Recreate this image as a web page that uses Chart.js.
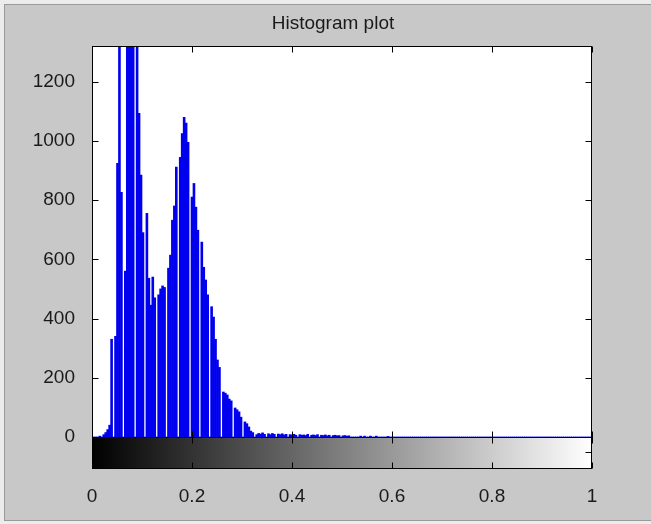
<!DOCTYPE html>
<html>
<head>
<meta charset="utf-8">
<script src="https://cdn.jsdelivr.net/npm/chart.js@4.4.1/dist/chart.umd.min.js"></script>
<style>
  html, body { margin: 0; padding: 0; background: #ececec; }
  #frame { position: absolute; left: 4px; top: 4px; width: 646px; height: 515px; background: #c8c8c8;
           border-left: 1px solid #9a9a9a; border-top: 1px solid #9a9a9a; border-bottom: 1px solid #9a9a9a; }
  #wrap { position: absolute; left: 0; top: 0; width: 651px; height: 524px; }
</style>
</head>
<body>
<div id="frame"></div>
<div id="wrap"><canvas id="hist" width="651" height="524"></canvas></div>
<script>
// imhist-style histogram, 256 bins over [0, 1]
const binCount = 256;

// counts per bin (values above the top are clipped)
const counts = [
  0, 0, 0, 0, 3, 0, 8, 15, 25, 40, 330, 0, 340, 924, 1450, 826,
  0, 560, 1450, 1400, 1450, 1450, 0, 1450, 1093, 884, 690, 0, 755, 536, 445, 540,
  470, 0, 480, 500, 510, 505, 0, 570, 614, 732, 780, 911, 0, 944, 1024, 1079,
  1060, 995, 0, 810, 856, 776, 698, 0, 658, 573, 530, 480, 0, 440, 405, 330,
  260, 235, 0, 152, 148, 142, 128, 122, 0, 98, 92, 85, 67, 0, 51, 45,
  34, 20, 15, 0, 8, 12, 10, 14, 9, 0, 11, 8, 12, 9, 0, 10,
  8, 11, 7, 9, 0, 8, 7, 9, 6, 0, 8, 6, 7, 5, 9, 0,
  6, 7, 5, 8, 0, 6, 5, 7, 4, 6, 0, 5, 6, 4, 5, 0,
  4, 5, 3, 4, 0, 0, 0, 0, 0, 3, 0, 3, 0, 0, 3, 0,
  0, 3, 0, 0, 0, 0, 0, 2, 0, 0, 0, 0, 0, 0, 0, 0,
  0, 0, 0, 0, 0, 0, 0, 0, 0, 0, 0, 0, 0, 0, 0, 0,
  0, 0, 0, 0, 0, 0, 0, 0, 0, 0, 0, 0, 0, 0, 0, 0,
  0, 0, 0, 0, 0, 0, 0, 0, 0, 0, 0, 0, 0, 0, 0, 0,
  0, 0, 0, 0, 0, 0, 0, 0, 0, 0, 0, 0, 0, 0, 0, 0,
  0, 0, 0, 0, 0, 0, 0, 0, 0, 0, 0, 0, 0, 0, 0, 0,
  0, 0, 0, 0, 0, 0, 0, 0, 0, 0, 0, 0, 0, 0, 0, 0
];

const xTicks = [0, 0.2, 0.4, 0.6, 0.8, 1];
const yTicks = [0, 200, 400, 600, 800, 1000, 1200];
const yMax = 1320;
const yMin = -108;      // room for the grey colorbar under zero
const barTickY = -50;   // lone tick on the colorbar's right side
const titleText = 'Histogram plot';

const font = { family: '"Liberation Sans", Arial, sans-serif', size: 19, weight: 'normal' };

// white plot background
const plotBg = {
  id: 'plotBg',
  beforeDatasetsDraw(chart) {
    const { ctx, chartArea: a } = chart;
    ctx.save();
    ctx.fillStyle = '#ffffff';
    ctx.fillRect(a.left, a.top, a.right - a.left, a.bottom - a.top);
    ctx.restore();
  }
};

// colorbar, box, inward ticks and the title
const axesBox = {
  id: 'axesBox',
  afterDatasetsDraw(chart) {
    const { ctx, chartArea: a, scales: { x, y } } = chart;
    const y0 = Math.round(y.getPixelForValue(0)) + 0.5;
    const x0 = x.getPixelForValue(0), x1 = x.getPixelForValue(1);
    const L = Math.round(a.left) + 0.5, R = Math.round(a.right) - 0.5;
    const T = Math.round(a.top) + 0.5, B = Math.round(a.bottom) - 0.5;
    const len = 6;
    ctx.save();
    const g = ctx.createLinearGradient(x0, 0, x1, 0);
    g.addColorStop(0, '#000000');
    g.addColorStop(1, '#ffffff');
    ctx.fillStyle = g;
    ctx.fillRect(x0, y0, x1 - x0, a.bottom - y0);

    ctx.strokeStyle = '#000000';
    ctx.lineWidth = 1;
    ctx.strokeRect(L, T, R - L, B - T);
    ctx.beginPath();
    ctx.moveTo(L, y0); ctx.lineTo(R, y0);

    xTicks.forEach(v => {
      const px = Math.round(x.getPixelForValue(v)) + 0.5;
      ctx.moveTo(px, T); ctx.lineTo(px, T + len);
      ctx.moveTo(px, y0 - len); ctx.lineTo(px, y0 + len);
      ctx.moveTo(px, B); ctx.lineTo(px, B - len);
    });
    yTicks.forEach(v => {
      const py = Math.round(y.getPixelForValue(v)) + 0.5;
      ctx.moveTo(L, py); ctx.lineTo(L + len, py);
      ctx.moveTo(R, py); ctx.lineTo(R - len, py);
    });
    const pb = Math.round(y.getPixelForValue(barTickY)) + 0.5;
    ctx.moveTo(R, pb); ctx.lineTo(R - len, pb);
    ctx.stroke();

    // title sits a little left of the axes centre, as in the figure
    ctx.fillStyle = '#1a1a1a';
    ctx.font = `${font.size}px ${font.family}`;
    ctx.textAlign = 'center';
    ctx.textBaseline = 'alphabetic';
    ctx.fillText(titleText, (a.left + a.right) / 2 - 9, a.top - 17);
    ctx.restore();
  }
};

new Chart(document.getElementById('hist'), {
  type: 'bar',
  data: {
    datasets: [{
      data: counts.map((c, i) => ({ x: i / (binCount - 1), y: c })),
      backgroundColor: '#0000ee',
      borderWidth: 0,
      barPercentage: 1,
      categoryPercentage: 1
    }]
  },
  options: {
    responsive: false,
    animation: false,
    layout: { padding: { left: 0, right: 59, top: 46, bottom: 0 } },
    plugins: {
      legend: { display: false },
      tooltip: { enabled: false },
      title: { display: false }
    },
    scales: {
      x: {
        type: 'linear',
        min: 0, max: 1,
        offset: false,
        grid: { display: false },
        border: { display: false },
        afterBuildTicks: s => { s.ticks = xTicks.map(v => ({ value: v })); },
        afterFit: s => { s.height = 55; },
        ticks: { color: '#1a1a1a', font, padding: 8, autoSkip: false, maxRotation: 0, callback: v => String(v) }
      },
      y: {
        min: yMin, max: yMax,
        grid: { display: false },
        border: { display: false },
        afterBuildTicks: s => { s.ticks = yTicks.map(v => ({ value: v })); },
        afterFit: s => { s.width = 92; },
        ticks: { color: '#1a1a1a', font, padding: 9, callback: v => String(v) }
      }
    }
  },
  plugins: [plotBg, axesBox]
});
</script>
</body>
</html>
